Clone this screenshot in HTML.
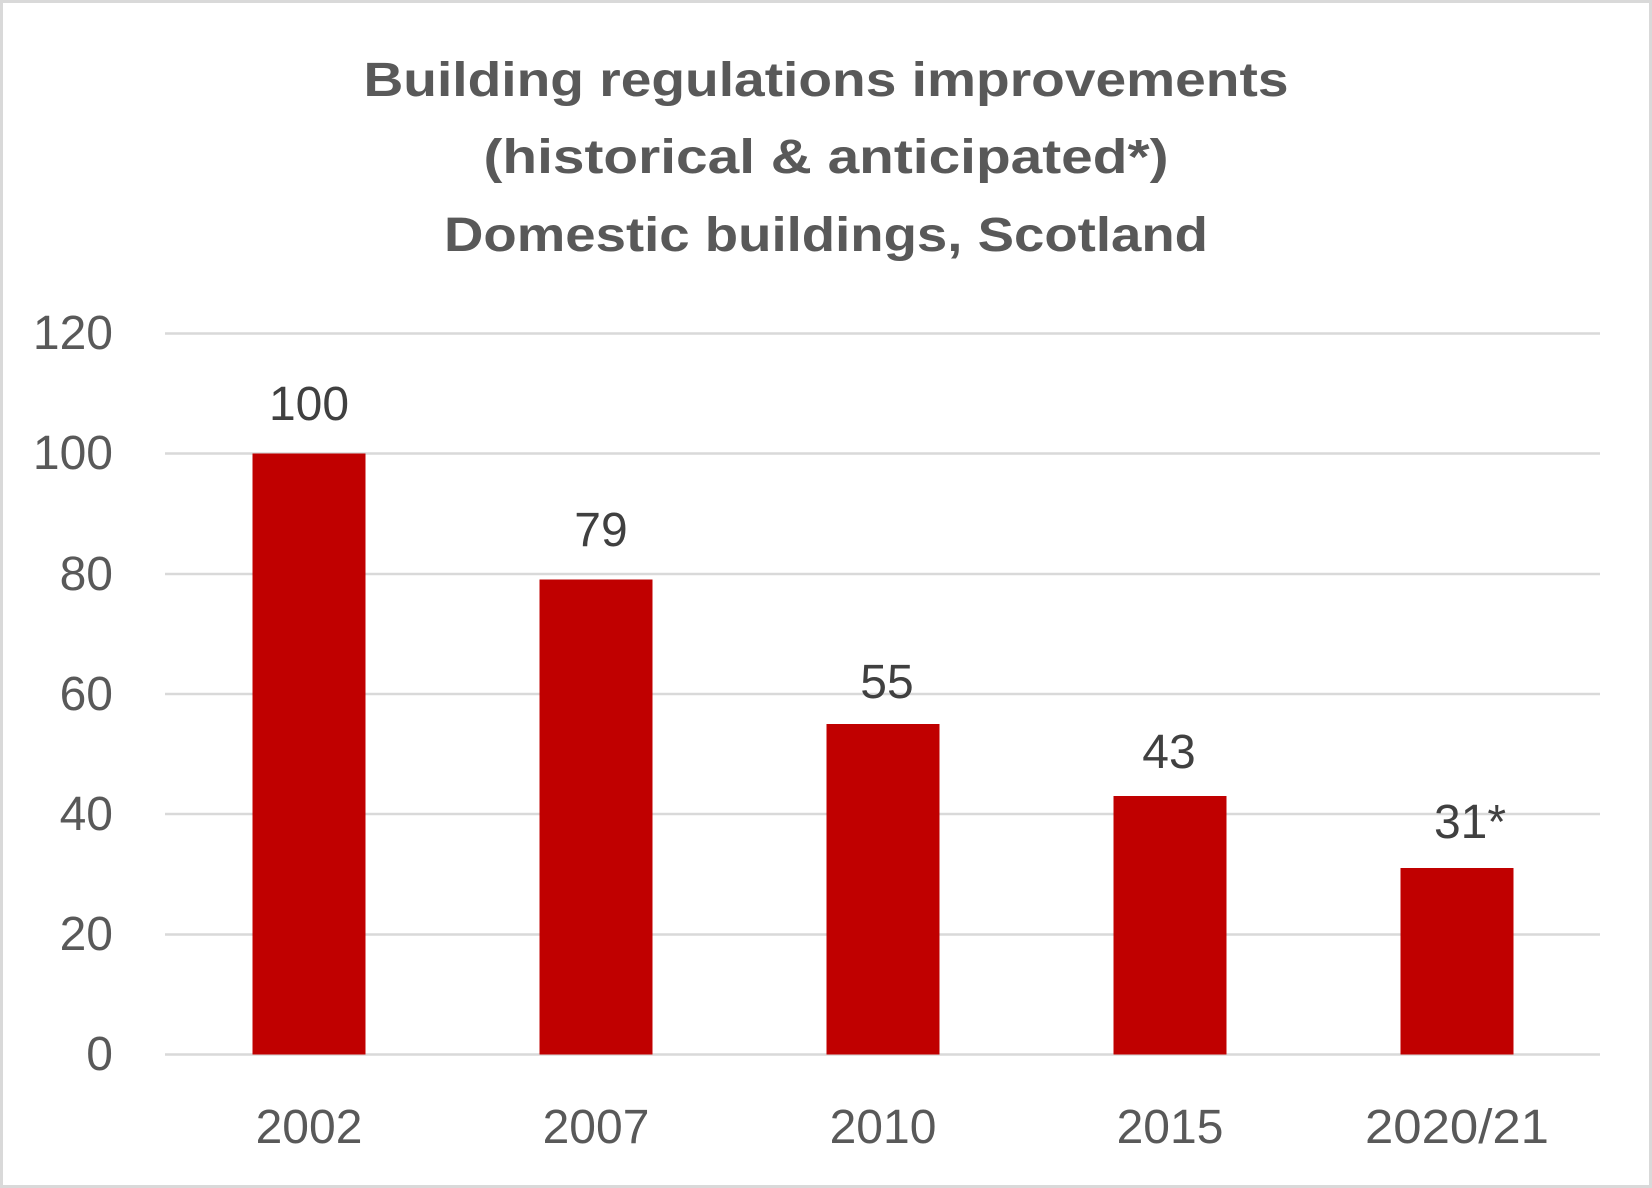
<!DOCTYPE html>
<html><head><style>body{margin:0;background:#fff}svg{display:block}</style></head><body>
<svg width="1652" height="1188" xmlns="http://www.w3.org/2000/svg" font-family="Liberation Sans, sans-serif">
<rect x="1.5" y="1.5" width="1649" height="1185" fill="#fff" stroke="#d9d9d9" stroke-width="3"/>
<g font-weight="bold" fill="#595959" font-size="48" text-anchor="middle">
<text x="826" y="96" textLength="925" lengthAdjust="spacingAndGlyphs">Building regulations improvements</text>
<text x="826" y="173" textLength="685" lengthAdjust="spacingAndGlyphs">(historical &amp; anticipated*)</text>
<text x="826" y="251" textLength="764" lengthAdjust="spacingAndGlyphs">Domestic buildings, Scotland</text>
</g>
<g stroke="#d9d9d9" stroke-width="2.5">
<line x1="165" x2="1600" y1="333.5" y2="333.5"/>
<line x1="165" x2="1600" y1="453.5" y2="453.5"/>
<line x1="165" x2="1600" y1="574" y2="574"/>
<line x1="165" x2="1600" y1="694" y2="694"/>
<line x1="165" x2="1600" y1="814" y2="814"/>
<line x1="165" x2="1600" y1="934.5" y2="934.5"/>
<line x1="165" x2="1600" y1="1054.5" y2="1054.5"/>
</g>
<g fill="#595959" font-size="48" text-anchor="end">
<text x="113" y="349">120</text>
<text x="113" y="469">100</text>
<text x="113" y="590">80</text>
<text x="113" y="710">60</text>
<text x="113" y="830">40</text>
<text x="113" y="950">20</text>
<text x="113" y="1070">0</text>
</g>
<g fill="#c00000">
<rect x="252.5" y="453.5" width="113" height="601"/>
<rect x="539.5" y="579.5" width="113" height="475"/>
<rect x="826.5" y="724" width="113" height="330.5"/>
<rect x="1113.5" y="796" width="113" height="258.5"/>
<rect x="1400.5" y="868" width="113" height="186.5"/>
</g>
<g fill="#404040" font-size="48" text-anchor="middle">
<text x="309" y="420">100</text>
<text x="601" y="546">79</text>
<text x="887" y="698">55</text>
<text x="1169" y="768">43</text>
<text x="1470" y="838">31*</text>
</g>
<g fill="#595959" font-size="48" text-anchor="middle">
<text x="309" y="1143">2002</text>
<text x="596" y="1143">2007</text>
<text x="883" y="1143">2010</text>
<text x="1170" y="1143">2015</text>
<text x="1457" y="1143" textLength="184" lengthAdjust="spacingAndGlyphs">2020/21</text>
</g>
</svg>
</body></html>
